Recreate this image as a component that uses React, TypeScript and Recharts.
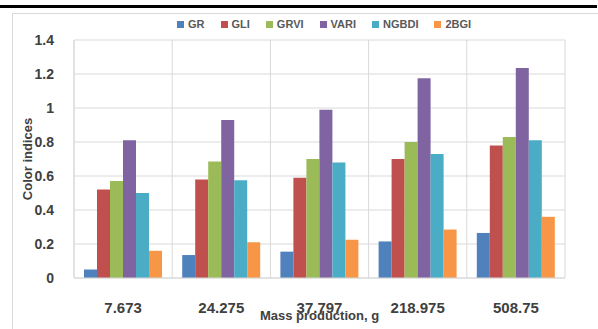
import React from "react"
import { Bar, BarChart, CartesianGrid, XAxis, YAxis } from "recharts"

// Mass production classes (g) along the category axis
const massClasses = ["7.673", "24.275", "37.797", "218.975", "508.75"]

// Colour index values per mass class
const grValues = [0.05, 0.135, 0.155, 0.215, 0.265]
const gliValues = [0.52, 0.58, 0.59, 0.7, 0.78]
const grviValues = [0.57, 0.685, 0.7, 0.8, 0.83]
const variValues = [0.81, 0.93, 0.99, 1.175, 1.235]
const ngbdiValues = [0.5, 0.575, 0.68, 0.73, 0.81]
const twoBgiValues = [0.16, 0.21, 0.225, 0.285, 0.36]

const yTicks = [0, 0.2, 0.4, 0.6, 0.8, 1, 1.2, 1.4]

const seriesNames = ["GR", "GLI", "GRVI", "VARI", "NGBDI", "2BGI"]
const seriesValues = [grValues, gliValues, grviValues, variValues, ngbdiValues, twoBgiValues]

const seriesColors: Record<string, string> = {
  GR: "#4F81BD",
  GLI: "#C0504D",
  GRVI: "#9BBB59",
  VARI: "#8064A2",
  NGBDI: "#4BACC6",
  "2BGI": "#F79646",
}

const data = massClasses.map((mass, i) => {
  const row: Record<string, string | number> = { mass }
  seriesNames.forEach((name, s) => {
    row[name] = seriesValues[s][i]
  })
  return row
})

const FONT = '"Liberation Sans", Arial, sans-serif'
const GRID = "#D9D9D9"
const INK = "#404040"

// vertical grid lines sit on the category boundaries, not the centres
const boundaryLines = ({ offset }: any) => {
  const n = massClasses.length
  const step = offset.width / n
  return Array.from({ length: n + 1 }, (_, i) => offset.left + i * step)
}

const ChartLegend = () => (
  <div
    style={{
      position: "absolute",
      left: 177,
      top: 18,
      display: "flex",
      gap: 16,
      fontFamily: FONT,
      fontSize: 11,
      fontWeight: "bold",
      lineHeight: "12px",
      color: "#595959",
    }}
  >
    {seriesNames.map((name) => (
      <div key={name} style={{ display: "flex", alignItems: "center", gap: 4 }}>
        <span style={{ width: 7, height: 7, background: seriesColors[name] }} />
        <span>{name}</span>
      </div>
    ))}
  </div>
)

export default function App() {
  return (
    <div
      style={{
        position: "absolute",
        left: 0,
        top: 0,
        width: 598,
        height: 329,
        background: "#fff",
        overflow: "hidden",
      }}
    >
      <div style={{ position: "absolute", left: 0, top: 5, width: 597, height: 3, background: "#000" }} />
      <div
        style={{
          position: "absolute",
          left: 12,
          top: 13,
          width: 600,
          height: 330,
          border: `1px solid ${GRID}`,
        }}
      />
      <ChartLegend />
      <div style={{ position: "absolute", left: 0, top: 0 }}>
        <BarChart
          width={598}
          height={329}
          data={data}
          margin={{ top: 40, right: 33, bottom: 21, left: 34 }}
          barCategoryGap={10}
          barGap={0}
        >
          <CartesianGrid stroke={GRID} verticalCoordinatesGenerator={boundaryLines} />
          <XAxis
            dataKey="mass"
            interval={0}
            height={30}
            tickLine={false}
            tickSize={0}
            tickMargin={24}
            axisLine={{ stroke: GRID }}
            tick={{ fill: INK, fontSize: 15, fontWeight: "bold", fontFamily: FONT }}
            label={{
              value: "Mass production, g",
              position: "insideBottom",
              offset: -12,
              fill: INK,
              fontSize: 13,
              fontWeight: "bold",
              fontFamily: FONT,
            }}
          />
          <YAxis
            width={40}
            domain={[0, 1.4]}
            ticks={yTicks}
            tickFormatter={(v: number) => `${v}`}
            tickLine={false}
            tickSize={0}
            tickMargin={20}
            axisLine={{ stroke: GRID }}
            tick={{ fill: INK, fontSize: 14, fontWeight: "bold", fontFamily: FONT }}
            label={{
              value: "Color indices",
              angle: -90,
              position: "insideLeft",
              offset: -7,
              fill: INK,
              fontSize: 13,
              fontWeight: "bold",
              fontFamily: FONT,
              style: { textAnchor: "middle" },
            }}
          />
          {seriesNames.map((name) => (
            <Bar key={name} dataKey={name} fill={seriesColors[name]} isAnimationActive={false} />
          ))}
        </BarChart>
      </div>
    </div>
  )
}
